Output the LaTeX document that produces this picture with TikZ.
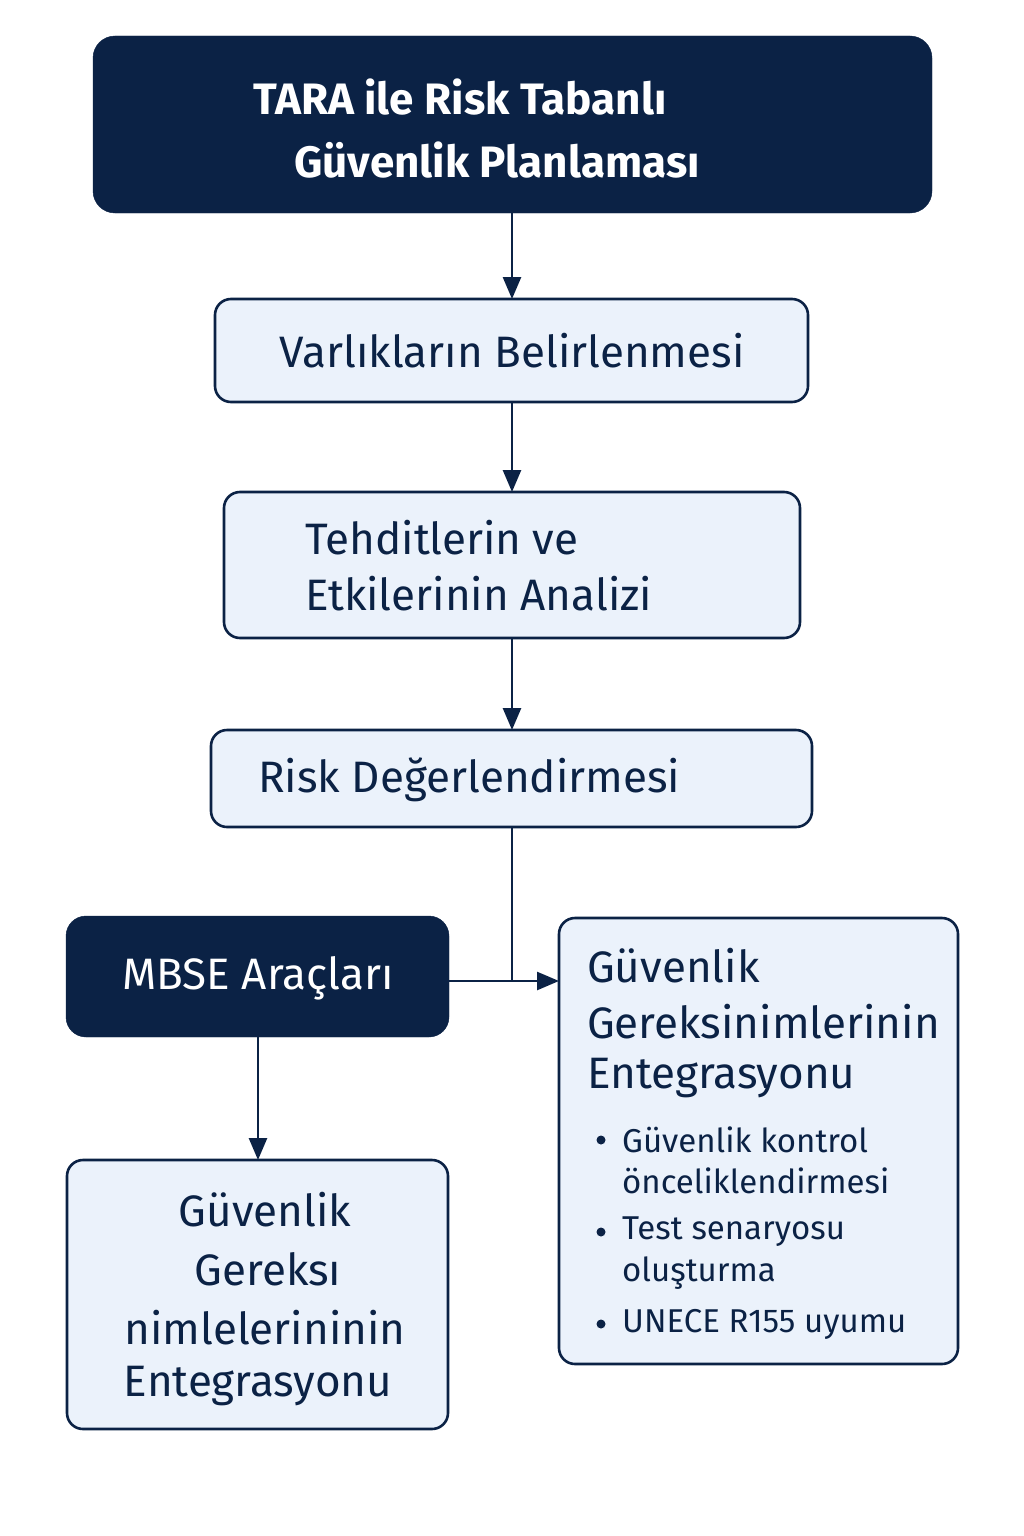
\documentclass[tikz,border=0pt]{standalone}
\usepackage{fontspec}
\setmainfont{Fira Sans}
\usetikzlibrary{arrows.meta}
\definecolor{navy}{HTML}{0B2245}
\definecolor{lite}{HTML}{EBF2FB}
\begin{document}
\begin{tikzpicture}[x=1pt,y=-1pt,
  darkbox/.style={fill=navy,draw=navy,rounded corners=22pt},
  litebox/.style={fill=lite,draw=navy,line width=2.6pt,rounded corners=16pt},
  txt/.style={text=navy,font=\fontsize{44}{56}\selectfont,inner sep=0pt},
  wtxt/.style={text=white,font=\fontsize{44}{56}\selectfont\bfseries,inner sep=0pt},
  con/.style={draw=navy,line width=2.6pt},
  arr/.style={con,-{Triangle[length=22pt,width=18pt]}}]
\useasboundingbox[fill=white] (0,0) rectangle (1024,1536);
\draw[darkbox] (93,36) rectangle (932,213);
\node[wtxt,anchor=center] (t1) at (460,97) {TARA ile Risk Tabanlı};
\node[wtxt,anchor=center] (t2) at (497,160) {Güvenlik Planlaması};
\coordinate (tb) at (512,213);
\draw[litebox] (215,299) rectangle (808,402);
\node[txt] (b1) at (512,351) {Varlıkların Belirlenmesi};
\coordinate (b1t) at (512,299); \coordinate (b1b) at (512,402);
\draw[litebox] (224,492) rectangle (800,638);
\node[txt,anchor=west] (b2a) at (305,538) {Tehditlerin ve};
\node[txt,anchor=west] (b2b) at (305,594) {Etkilerinin Analizi};
\coordinate (b2t) at (512,492); \coordinate (b2b) at (512,638);
\draw[litebox] (211,730) rectangle (812,827);
\node[txt,anchor=west] (b3) at (258,780) {Risk Değerlendirmesi};
\coordinate (b3t) at (512,730); \coordinate (b3b) at (512,827);
\draw[darkbox,rounded corners=20pt] (66,916) rectangle (449,1037);
\node[text=white,font=\fontsize{44}{56}\selectfont,inner sep=0pt] (m) at (258,978) {MBSE Araçları};
\coordinate (mr) at (449,981); \coordinate (mb) at (258,1037);
\draw[litebox] (559,918) rectangle (958,1364);
\coordinate (rl) at (559,981); \coordinate (j) at (512,981);
\node[txt,anchor=west] (r1) at (587,966) {Güvenlik};
\node[txt,anchor=west] (r2) at (587,1022) {Gereksinimlerinin};
\node[txt,anchor=west] (r3) at (587,1078) {Entegrasyonu};
\foreach \y/\t/\b in {1140/Güvenlik kontrol/1, 1181/önceliklendirmesi/0, 1232/Test senaryosu/1, 1273/oluşturma/0, 1324/UNECE R155 uyumu/1}{
  \node[text=navy,font=\fontsize{33}{40}\selectfont,inner sep=0pt,anchor=west] at (622,\y) {\t};
  \ifnum\b=1 \fill[navy] (601,\y) circle (4.5pt);\fi
}
\draw[litebox] (67,1160) rectangle (448,1429);
\coordinate (bt) at (258,1160);
\node[txt] (g1) at (265,1210) {Güvenlik};
\node[txt] (g2) at (268,1269) {Gereksı};
\node[txt] (g3) at (265,1328) {nimlelerininin};
\node[txt] (g4) at (258,1386) {Entegrasyonu};
\draw[arr] (tb) -- (b1t);
\draw[arr] (b1b) -- (b2t);
\draw[arr] (b2b) -- (b3t);
\draw[con] (b3b) -- (j);
\draw[arr] (mr) -- (rl);
\draw[arr] (mb) -- (bt);
\end{tikzpicture}
\end{document}
